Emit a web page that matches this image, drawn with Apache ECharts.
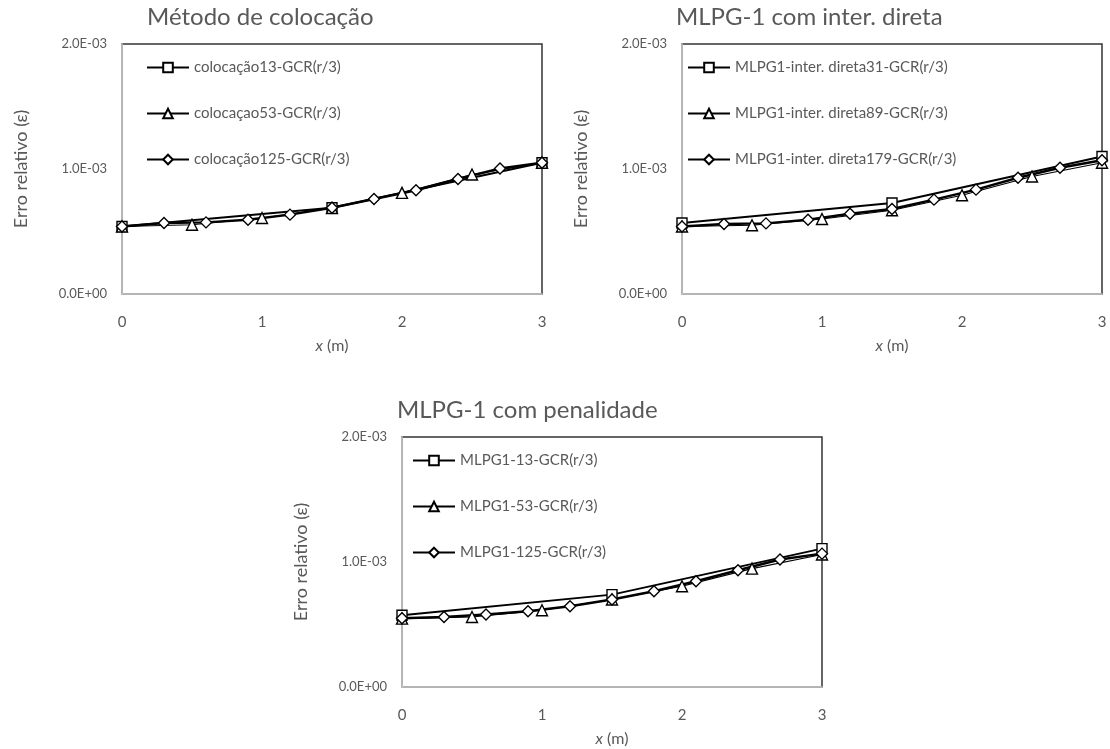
<!DOCTYPE html>
<html>
<head>
<meta charset="utf-8">
<script src="https://cdn.jsdelivr.net/npm/echarts@6/dist/echarts.min.js"></script>
<style>
  html, body { margin: 0; padding: 0; background: #fff; }
  #main { width: 1110px; height: 749px; }
</style>
</head>
<body>
<div id="main"></div>
<script>
// nós (x em metros) de cada discretização
const x13 = [0, 1.5, 3]
const x53 = [0, 0.5, 1, 1.5, 2, 2.5, 3]
const x125 = [0, 0.3, 0.6, 0.9, 1.2, 1.5, 1.8, 2.1, 2.4, 2.7, 3]

// Método de colocação
const col13 = [5.40e-4, 6.90e-4, 1.050e-3]
const col53 = [5.40e-4, 5.54e-4, 6.08e-4, 6.88e-4, 8.09e-4, 9.56e-4, 1.050e-3]
const col125 = [5.40e-4, 5.68e-4, 5.73e-4, 5.94e-4, 6.35e-4, 6.90e-4, 7.60e-4, 8.30e-4, 9.20e-4, 1.004e-3, 1.050e-3]

// MLPG-1 com inter. direta
const dir31 = [5.68e-4, 7.28e-4, 1.100e-3]
const dir89 = [5.40e-4, 5.50e-4, 6.00e-4, 6.70e-4, 7.90e-4, 9.40e-4, 1.050e-3]
const dir179 = [5.40e-4, 5.60e-4, 5.65e-4, 5.94e-4, 6.42e-4, 6.80e-4, 7.55e-4, 8.35e-4, 9.30e-4, 1.010e-3, 1.070e-3]

// MLPG-1 com penalidade
const pen13 = [5.74e-4, 7.39e-4, 1.107e-3]
const pen53 = [5.47e-4, 5.60e-4, 6.14e-4, 7.00e-4, 8.06e-4, 9.47e-4, 1.060e-3]
const pen125 = [5.50e-4, 5.60e-4, 5.80e-4, 6.06e-4, 6.46e-4, 7.00e-4, 7.66e-4, 8.46e-4, 9.34e-4, 1.020e-3, 1.067e-3]

const titles = ['Método de colocação', 'MLPG-1 com inter. direta', 'MLPG-1 com penalidade']
const names = [
  ['colocação13-GCR(r/3)', 'colocaçao53-GCR(r/3)', 'colocação125-GCR(r/3)'],
  ['MLPG1-inter. direta31-GCR(r/3)', 'MLPG1-inter. direta89-GCR(r/3)', 'MLPG1-inter. direta179-GCR(r/3)'],
  ['MLPG1-13-GCR(r/3)', 'MLPG1-53-GCR(r/3)', 'MLPG1-125-GCR(r/3)']
]
const values = [
  [col13, col53, col125],
  [dir31, dir89, dir179],
  [pen13, pen53, pen125]
]
const xs = [x13, x53, x125]

const grey = '#595959'
const font = 'Lato'

// posição de cada gráfico
const boxes = [
  { left: 122, top: 44 },
  { left: 682, top: 44 },
  { left: 402, top: 437 }
]
const titleLeft = [147, 676, 397]
const legendLeft = [141, 682, 407]

function sci(v) {
  if (v === 0) return '0.0E+00'
  const e = Math.floor(Math.log10(Math.abs(v)) + 1e-9)
  const m = v / Math.pow(10, e)
  return m.toFixed(1) + 'E' + (e < 0 ? '-' : '+') + String(Math.abs(e)).padStart(2, '0')
}

const markers = [
  { symbol: 'rect', size: 10, width: 1.8 },
  { symbol: 'triangle', size: 11, width: 1.2 },
  { symbol: 'diamond', size: 11, width: 2.4 }
]

const grid = [], xAxis = [], yAxis = [], title = [], legend = [], series = []

boxes.forEach((b, k) => {
  grid.push({
    left: b.left, top: b.top, width: 420, height: 250,
    show: true, borderColor: '#333', borderWidth: 1.5, backgroundColor: '#fff'
  })
  title.push({
    text: titles[k],
    left: titleLeft[k], top: b.top - 39,
    padding: 0,
    textStyle: { fontFamily: font, fontSize: 24, fontWeight: 'normal', color: grey }
  })
  xAxis.push({
    type: 'value', gridIndex: k, min: 0, max: 3, interval: 1,
    name: '{i|x} (m)', nameLocation: 'middle', nameGap: 44,
    nameTextStyle: {
      fontFamily: font, fontSize: 16, color: grey,
      rich: { i: { fontFamily: font, fontSize: 16, color: grey, fontStyle: 'italic' } }
    },
    axisLine: { show: true, lineStyle: { color: '#d0d0d0', width: 1.5 } },
    axisTick: { show: false },
    splitLine: { show: false },
    axisLabel: { margin: 21, fontFamily: font, fontSize: 15, color: grey }
  })
  yAxis.push({
    type: 'value', gridIndex: k, min: 0, max: 0.002, interval: 0.001,
    name: 'Erro relativo (ε)', nameLocation: 'middle', nameGap: 92,
    nameTextStyle: { fontFamily: font, fontSize: 18, color: grey },
    axisLine: { show: true, lineStyle: { color: '#d0d0d0', width: 1.5 } },
    axisTick: { show: false },
    splitLine: { show: false },
    axisLabel: { margin: 15, fontFamily: font, fontSize: 13, color: grey, formatter: sci }
  })
  legend.push({
    data: names[k],
    orient: 'vertical',
    left: legendLeft[k], top: b.top + 11,
    itemWidth: 42, itemHeight: 12, itemGap: 31,
    textStyle: { fontFamily: font, fontSize: 15, color: grey }
  })
  names[k].forEach((n, s) => {
    const m = markers[s]
    series.push({
      name: n, type: 'line', xAxisIndex: k, yAxisIndex: k,
      data: xs[s].map((x, i) => [x, values[k][s][i]]),
      symbol: m.symbol, symbolSize: m.size, showAllSymbol: true,
      lineStyle: { color: '#000', width: m.width },
      itemStyle: { color: '#fff', borderColor: '#000', borderWidth: 1.4 },
      emphasis: { disabled: true },
      animation: false
    })
  })
})

const chart = echarts.init(document.getElementById('main'))
chart.setOption({
  animation: false,
  title, grid, xAxis, yAxis, legend, series
})
</script>
</body>
</html>
